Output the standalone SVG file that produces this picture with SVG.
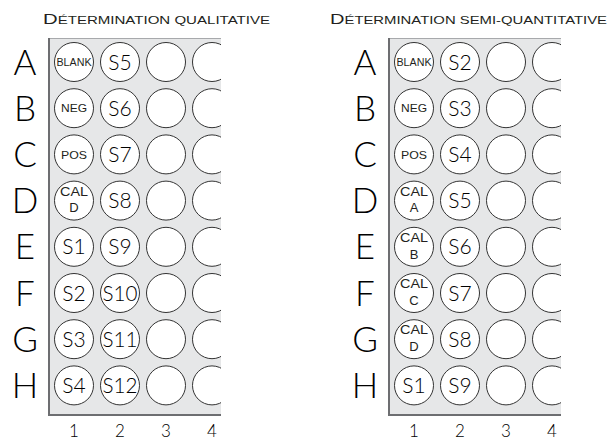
<svg xmlns="http://www.w3.org/2000/svg" width="610" height="441" viewBox="0 0 610 441">
<style>
  text { font-family: "Liberation Sans", Arial, sans-serif; fill: #231f20; }
  .title { font-size: 11.5px; }
  .big { font-size: 15.5px; }
  .row { font-family: Lato, "Liberation Sans", sans-serif; font-weight: 300; font-size: 35px; text-anchor: middle; fill: #000; }
  .col { font-family: Lato, "Liberation Sans", sans-serif; font-weight: 300; font-size: 17px; text-anchor: middle; fill: #000; }
  .plate { fill: #e6e7e8; }
  .ptop { stroke: #a7a9ac; stroke-width: 1; fill: none; }
  .pedge { stroke: #6d6e71; stroke-width: 2; fill: none; }
  .well { fill: #ffffff; stroke: #333333; stroke-width: 1; }
  .s, .sm, .bl, .cal { text-anchor: middle; }
  .s { font-family: Lato, "Liberation Sans", sans-serif; font-size: 21px; font-weight: 300; fill: #000; }
  .sm { font-size: 11.5px; }
  .bl { font-size: 10px; }
  .cal { font-size: 13px; }
</style>
<defs>
  <clipPath id="clipL"><rect x="49" y="38" width="172" height="377"/></clipPath>
  <clipPath id="clipR"><rect x="389" y="38" width="172" height="377"/></clipPath>
  <circle id="w" r="19.5" class="well"/>
</defs>

<!-- Titles -->
<text x="43" y="24" class="title" textLength="227" lengthAdjust="spacingAndGlyphs"><tspan class="big">D</tspan>ÉTERMINATION QUALITATIVE</text>
<text x="330" y="24" class="title" textLength="277" lengthAdjust="spacingAndGlyphs"><tspan class="big">D</tspan>ÉTERMINATION SEMI-QUANTITATIVE</text>

<!-- Left plate -->
<g id="plate-left">
  <rect x="49" y="38" width="172" height="377" class="plate"/>
  <line x1="49" y1="38.5" x2="221" y2="38.5" class="ptop"/>
  <g clip-path="url(#clipL)">
    <g id="L-col3-4">
      <use href="#w" x="166" y="62"/><use href="#w" x="212" y="62"/>
      <use href="#w" x="166" y="108.2"/><use href="#w" x="212" y="108.2"/>
      <use href="#w" x="166" y="154.4"/><use href="#w" x="212" y="154.4"/>
      <use href="#w" x="166" y="200.6"/><use href="#w" x="212" y="200.6"/>
      <use href="#w" x="166" y="246.8"/><use href="#w" x="212" y="246.8"/>
      <use href="#w" x="166" y="293"/><use href="#w" x="212" y="293"/>
      <use href="#w" x="166" y="339.2"/><use href="#w" x="212" y="339.2"/>
      <use href="#w" x="166" y="385.4"/><use href="#w" x="212" y="385.4"/>
    </g>
  </g>
  <polyline points="49,38 49,415 221,415" class="pedge"/>
  <g id="L-A1"><use href="#w" x="74" y="62"/><text x="74" y="65.5" class="bl" textLength="35" lengthAdjust="spacingAndGlyphs">BLANK</text></g>
  <g id="L-B1"><use href="#w" x="74" y="108.2"/><text x="74" y="112.4" class="sm" textLength="26" lengthAdjust="spacingAndGlyphs">NEG</text></g>
  <g id="L-C1"><use href="#w" x="74" y="154.4"/><text x="74" y="158.6" class="sm" textLength="26" lengthAdjust="spacingAndGlyphs">POS</text></g>
  <g id="L-D1"><use href="#w" x="74" y="200.6"/><text x="74" y="195.8" class="cal" textLength="28" lengthAdjust="spacingAndGlyphs">CAL</text><text x="74" y="212.3" class="cal">D</text></g>
  <g id="L-E1"><use href="#w" x="74" y="246.8"/><text x="74" y="254.3" class="s">S1</text></g>
  <g id="L-F1"><use href="#w" x="74" y="293"/><text x="74" y="300.5" class="s">S2</text></g>
  <g id="L-G1"><use href="#w" x="74" y="339.2"/><text x="74" y="346.7" class="s">S3</text></g>
  <g id="L-H1"><use href="#w" x="74" y="385.4"/><text x="74" y="392.9" class="s">S4</text></g>
  <g id="L-A2"><use href="#w" x="120" y="62"/><text x="120" y="69.5" class="s">S5</text></g>
  <g id="L-B2"><use href="#w" x="120" y="108.2"/><text x="120" y="115.7" class="s">S6</text></g>
  <g id="L-C2"><use href="#w" x="120" y="154.4"/><text x="120" y="161.9" class="s">S7</text></g>
  <g id="L-D2"><use href="#w" x="120" y="200.6"/><text x="120" y="208.1" class="s">S8</text></g>
  <g id="L-E2"><use href="#w" x="120" y="246.8"/><text x="120" y="254.3" class="s">S9</text></g>
  <g id="L-F2"><use href="#w" x="120" y="293"/><text x="120" y="300.5" class="s" textLength="35" lengthAdjust="spacingAndGlyphs">S10</text></g>
  <g id="L-G2"><use href="#w" x="120" y="339.2"/><text x="120" y="346.7" class="s" textLength="35" lengthAdjust="spacingAndGlyphs">S11</text></g>
  <g id="L-H2"><use href="#w" x="120" y="385.4"/><text x="120" y="392.9" class="s" textLength="35" lengthAdjust="spacingAndGlyphs">S12</text></g>
</g>
<g id="rows-left">
  <text x="25" y="74.5" class="row">A</text>
  <text x="25" y="120.7" class="row">B</text>
  <text x="25" y="166.9" class="row">C</text>
  <text x="25" y="213.1" class="row">D</text>
  <text x="25" y="259.3" class="row">E</text>
  <text x="25" y="305.5" class="row">F</text>
  <text x="25" y="351.7" class="row">G</text>
  <text x="25" y="397.9" class="row">H</text>
</g>
<g id="cols-left">
  <text x="74" y="437" class="col">1</text>
  <text x="120" y="437" class="col">2</text>
  <text x="166" y="437" class="col">3</text>
  <text x="212" y="437" class="col">4</text>
</g>

<!-- Right plate -->
<g id="plate-right">
  <rect x="389" y="38" width="172" height="377" class="plate"/>
  <line x1="389" y1="38.5" x2="561" y2="38.5" class="ptop"/>
  <g clip-path="url(#clipR)">
    <g id="R-col3-4">
      <use href="#w" x="506" y="62"/><use href="#w" x="552" y="62"/>
      <use href="#w" x="506" y="108.2"/><use href="#w" x="552" y="108.2"/>
      <use href="#w" x="506" y="154.4"/><use href="#w" x="552" y="154.4"/>
      <use href="#w" x="506" y="200.6"/><use href="#w" x="552" y="200.6"/>
      <use href="#w" x="506" y="246.8"/><use href="#w" x="552" y="246.8"/>
      <use href="#w" x="506" y="293"/><use href="#w" x="552" y="293"/>
      <use href="#w" x="506" y="339.2"/><use href="#w" x="552" y="339.2"/>
      <use href="#w" x="506" y="385.4"/><use href="#w" x="552" y="385.4"/>
    </g>
  </g>
  <polyline points="389,38 389,415 561,415" class="pedge"/>
  <g id="R-A1"><use href="#w" x="414" y="62"/><text x="414" y="65.5" class="bl" textLength="35" lengthAdjust="spacingAndGlyphs">BLANK</text></g>
  <g id="R-B1"><use href="#w" x="414" y="108.2"/><text x="414" y="112.4" class="sm" textLength="26" lengthAdjust="spacingAndGlyphs">NEG</text></g>
  <g id="R-C1"><use href="#w" x="414" y="154.4"/><text x="414" y="158.6" class="sm" textLength="26" lengthAdjust="spacingAndGlyphs">POS</text></g>
  <g id="R-D1"><use href="#w" x="414" y="200.6"/><text x="414" y="195.8" class="cal" textLength="28" lengthAdjust="spacingAndGlyphs">CAL</text><text x="414" y="212.3" class="cal">A</text></g>
  <g id="R-E1"><use href="#w" x="414" y="246.8"/><text x="414" y="242" class="cal" textLength="28" lengthAdjust="spacingAndGlyphs">CAL</text><text x="414" y="258.5" class="cal">B</text></g>
  <g id="R-F1"><use href="#w" x="414" y="293"/><text x="414" y="288.2" class="cal" textLength="28" lengthAdjust="spacingAndGlyphs">CAL</text><text x="414" y="304.7" class="cal">C</text></g>
  <g id="R-G1"><use href="#w" x="414" y="339.2"/><text x="414" y="334.4" class="cal" textLength="28" lengthAdjust="spacingAndGlyphs">CAL</text><text x="414" y="350.9" class="cal">D</text></g>
  <g id="R-H1"><use href="#w" x="414" y="385.4"/><text x="414" y="392.9" class="s">S1</text></g>
  <g id="R-A2"><use href="#w" x="460" y="62"/><text x="460" y="69.5" class="s">S2</text></g>
  <g id="R-B2"><use href="#w" x="460" y="108.2"/><text x="460" y="115.7" class="s">S3</text></g>
  <g id="R-C2"><use href="#w" x="460" y="154.4"/><text x="460" y="161.9" class="s">S4</text></g>
  <g id="R-D2"><use href="#w" x="460" y="200.6"/><text x="460" y="208.1" class="s">S5</text></g>
  <g id="R-E2"><use href="#w" x="460" y="246.8"/><text x="460" y="254.3" class="s">S6</text></g>
  <g id="R-F2"><use href="#w" x="460" y="293"/><text x="460" y="300.5" class="s">S7</text></g>
  <g id="R-G2"><use href="#w" x="460" y="339.2"/><text x="460" y="346.7" class="s">S8</text></g>
  <g id="R-H2"><use href="#w" x="460" y="385.4"/><text x="460" y="392.9" class="s">S9</text></g>
</g>
<g id="rows-right">
  <text x="365" y="74.5" class="row">A</text>
  <text x="365" y="120.7" class="row">B</text>
  <text x="365" y="166.9" class="row">C</text>
  <text x="365" y="213.1" class="row">D</text>
  <text x="365" y="259.3" class="row">E</text>
  <text x="365" y="305.5" class="row">F</text>
  <text x="365" y="351.7" class="row">G</text>
  <text x="365" y="397.9" class="row">H</text>
</g>
<g id="cols-right">
  <text x="414" y="437" class="col">1</text>
  <text x="460" y="437" class="col">2</text>
  <text x="506" y="437" class="col">3</text>
  <text x="552" y="437" class="col">4</text>
</g>
</svg>
